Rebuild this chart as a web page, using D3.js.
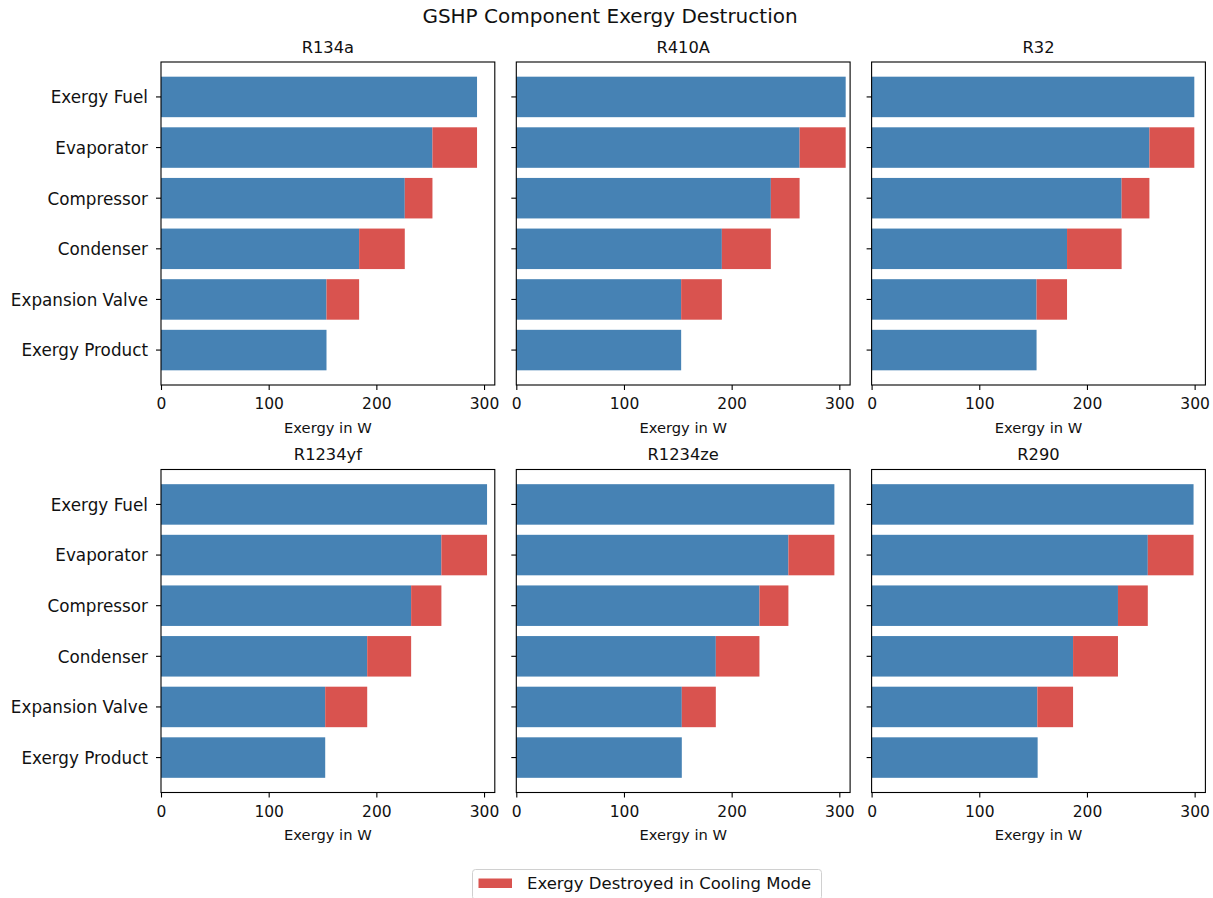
<!DOCTYPE html>
<html>
<head>
<meta charset="utf-8">
<script src="https://cdn.jsdelivr.net/npm/d3@7"></script>
<style>
  html, body { margin: 0; padding: 0; background: #fff; }
  svg { display: block; font-family: "DejaVu Sans", sans-serif; }
</style>
</head>
<body>
<svg id="chart" width="1213" height="898"></svg>
<script>
// ---- Data ----
const categories = ["Exergy Fuel", "Evaporator", "Compressor", "Condenser", "Expansion Valve", "Exergy Product"];
const refrigerants = ["R134a", "R410A", "R32", "R1234yf", "R1234ze", "R290"];
// remaining exergy (W) after each stage: fuel, after evaporator, after compressor,
// after condenser, after expansion valve, exergy product
const levelsR134a   = [293.5, 252.1, 226.4, 184.0, 153.7, 153.7];
const levelsR410A   = [305.9, 263.1, 236.4, 190.9, 153.1, 153.1];
const levelsR32     = [299.7, 258.0, 232.2, 181.5, 153.2, 153.2];
const levelsR1234yf = [302.8, 260.4, 232.3, 191.5, 152.5, 152.5];
const levelsR1234ze = [295.4, 252.7, 225.8, 185.3, 153.7, 153.7];
const levelsR290    = [299.0, 256.5, 228.8, 187.1, 153.9, 154.2];
const xTicks = [0, 100, 200, 300];
const xMax = 310;
const legendLabel = "Exergy Destroyed in Cooling Mode";
const titleText = "GSHP Component Exergy Destruction";
const xLabelText = "Exergy in W";

const allLevels = [levelsR134a, levelsR410A, levelsR32, levelsR1234yf, levelsR1234ze, levelsR290];

// ---- Styles / layout ----
const BLUE = "#4682b4";
const RED = "#d9534f";
const svg = d3.select("#chart");

const colLefts = [161, 516.3, 871.6];
const rowTops = [62, 469.5];
const axW = 333.8, axH = 323;

svg.append("text")
  .attr("x", 610).attr("y", 23)
  .attr("text-anchor", "middle")
  .attr("font-size", 20)
  .attr("fill", "#111")
  .text(titleText);

refrigerants.forEach((name, k) => {
  const levels = allLevels[k];
  const col = k % 3, row = Math.floor(k / 3);
  const left = colLefts[col], top = rowTops[row];

  const x = d3.scaleLinear().domain([0, xMax]).range([0, axW]);
  const y = d3.scaleBand().domain(categories).range([0, axH])
    .paddingInner(0.2).paddingOuter(0.29);

  const g = svg.append("g").attr("transform", `translate(${left},${top})`);

  // blue bars (remaining exergy)
  g.selectAll("rect.blue").data(categories).enter().append("rect")
    .attr("class", "blue")
    .attr("x", x(0))
    .attr("y", d => y(d))
    .attr("width", (d, i) => x(levels[i]) - x(0))
    .attr("height", y.bandwidth())
    .attr("fill", BLUE);

  // red bars (exergy destroyed by each component)
  const comps = categories.slice(1, 5);
  g.selectAll("rect.red").data(comps).enter().append("rect")
    .attr("class", "red")
    .attr("x", (d, j) => x(levels[j + 1]))
    .attr("y", d => y(d))
    .attr("width", (d, j) => x(levels[j]) - x(levels[j + 1]))
    .attr("height", y.bandwidth())
    .attr("fill", RED);

  // x axis
  const xa = g.append("g").attr("transform", `translate(0,${axH})`)
    .call(d3.axisBottom(x).tickValues(xTicks).tickSize(5).tickPadding(8));
  xa.select(".domain").remove();
  xa.selectAll("line").attr("stroke", "#000").attr("stroke-width", 1.1);
  xa.selectAll("text").attr("font-size", 15.5).attr("fill", "#111")
    .attr("font-family", "DejaVu Sans, sans-serif");

  // y axis
  const ya = g.append("g")
    .call(d3.axisLeft(y).tickSize(5).tickPadding(8));
  ya.select(".domain").remove();
  ya.selectAll("line").attr("stroke", "#000").attr("stroke-width", 1.1);
  if (col === 0) {
    ya.selectAll("text").attr("font-size", 16.8).attr("fill", "#111")
      .attr("dy", "0.38em")
      .attr("font-family", "DejaVu Sans, sans-serif");
  } else {
    ya.selectAll("text").remove();
  }

  // frame
  g.append("rect")
    .attr("x", 0).attr("y", 0).attr("width", axW).attr("height", axH)
    .attr("fill", "none").attr("stroke", "#000").attr("stroke-width", 1.1);

  // subplot title
  g.append("text")
    .attr("x", axW / 2).attr("y", -9.5)
    .attr("text-anchor", "middle")
    .attr("font-size", 16.3)
    .attr("fill", "#111")
    .text(name);

  // x label
  g.append("text")
    .attr("x", axW / 2).attr("y", axH + 47.5)
    .attr("text-anchor", "middle")
    .attr("font-size", 14.7)
    .attr("fill", "#111")
    .text(xLabelText);
});

// legend
const lg = svg.append("g");
lg.append("rect")
  .attr("x", 472.5).attr("y", 869.5).attr("width", 349).attr("height", 30).attr("rx", 3)
  .attr("fill", "#fff").attr("fill-opacity", 0.8)
  .attr("stroke", "#d0d0d0").attr("stroke-width", 1);
lg.append("rect")
  .attr("x", 478.5).attr("y", 878.5).attr("width", 33.5).attr("height", 9.5)
  .attr("fill", RED);
lg.append("text")
  .attr("x", 527).attr("y", 888.5)
  .attr("font-size", 16.5)
  .attr("fill", "#111")
  .text(legendLabel);
</script>
</body>
</html>
